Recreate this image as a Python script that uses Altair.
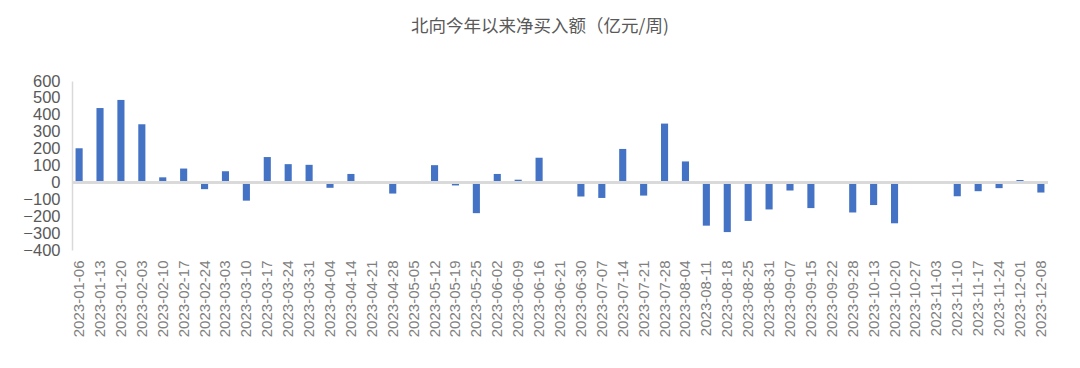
import altair as alt
import pandas as pd

dates = ["2023-01-06", "2023-01-13", "2023-01-20", "2023-02-03", "2023-02-10", "2023-02-17",
         "2023-02-24", "2023-03-03", "2023-03-10", "2023-03-17", "2023-03-24", "2023-03-31",
         "2023-04-04", "2023-04-14", "2023-04-21", "2023-04-28", "2023-05-05", "2023-05-12",
         "2023-05-19", "2023-05-25", "2023-06-02", "2023-06-09", "2023-06-16", "2023-06-21",
         "2023-06-30", "2023-07-07", "2023-07-14", "2023-07-21", "2023-07-28", "2023-08-04",
         "2023-08-11", "2023-08-18", "2023-08-25", "2023-08-31", "2023-09-07", "2023-09-15",
         "2023-09-22", "2023-09-28", "2023-10-13", "2023-10-20", "2023-10-27", "2023-11-03",
         "2023-11-10", "2023-11-17", "2023-11-24", "2023-12-01", "2023-12-08"]
values = [202, 440, 488, 344, 30, 82,
          -40, 66, -108, 150, 108, 104,
          -32, 50, 8, -66, 0, 102,
          -18, -182, 50, 16, 146, 0,
          -84, -92, 198, -78, 348, 124,
          -256, -294, -228, -160, -48, -152,
          0, -178, -134, -242, 0, 0,
          -82, -52, -34, 14, -60]
y_ticks = [-400, -300, -200, -100, 0, 100, 200, 300, 400, 500, 600]

df = pd.DataFrame({"date": dates, "value": values})

y_scale = alt.Scale(domain=[-400, 600], nice=False, zero=False)
y_axis = alt.Axis(values=y_ticks, grid=False, ticks=False, domain=True,
                  domainColor="#d9d9d9", domainWidth=1.5, labelPadding=12,
                  labelOverlap=False, labelFontSize=16.5, labelColor="#595959",
                  labelFont="Liberation Sans", title=None)

bars = alt.Chart(df).mark_bar(color="#4472C4").encode(
    x=alt.X("date:N", sort=dates, title=None,
            scale=alt.Scale(paddingInner=0.66, paddingOuter=0.17),
            axis=alt.Axis(labelAngle=-90, domain=False, ticks=False, labelPadding=10,
                          labelOverlap=False, labelFontSize=15, labelColor="#808080",
                          labelFont="Liberation Sans")),
    y=alt.Y("value:Q", title=None, scale=y_scale, axis=y_axis),
)

zero = alt.Chart(df).mark_rule(color="#d9d9d9", strokeWidth=2).encode(
    y=alt.YDatum(0, scale=y_scale, axis=y_axis)
)

chart = alt.layer(bars, zero).properties(
    width=976, height=169,
    title=alt.TitleParams("北向今年以来净买入额（亿元/周)", font="Noto Sans CJK SC", fontSize=17.5,
                          fontWeight="normal", color="#595959", frame="group", anchor="middle",
                          dx=-20, offset=38),
    autosize=alt.AutoSizeParams(type="none"),
    padding={"left": 64, "top": 73, "right": 24, "bottom": 100},
).configure_view(stroke=None).configure_axis(labelOverlap=False)

chart.save("out.html", embed_options={"renderer": "svg", "actions": False})
